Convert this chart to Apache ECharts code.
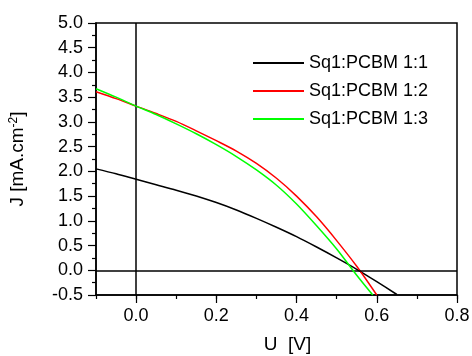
<!DOCTYPE html>
<html>
<head>
<meta charset="utf-8">
<script src="https://cdn.jsdelivr.net/npm/echarts@6/dist/echarts.min.js"></script>
<style>
  html, body { margin: 0; padding: 0; background: #fff; }
  #chart { width: 472px; height: 356px; }
</style>
</head>
<body>
<div id="chart"></div>
<script>
// series names
const seriesNames = ["Sq1:PCBM 1:1", "Sq1:PCBM 1:2", "Sq1:PCBM 1:3"];

// voltage (V) and current density (mA/cm2)
const uBlack = [-0.1, -0.05, 0, 0.05, 0.1, 0.15, 0.2, 0.25, 0.3, 0.35, 0.4, 0.45, 0.5, 0.55, 0.6, 0.65];
const jBlack = [2.05, 1.95, 1.84, 1.73, 1.62, 1.50, 1.37, 1.22, 1.05, 0.87, 0.68, 0.47, 0.25, 0.02, -0.23, -0.49];

const uRed = [-0.1, -0.05, 0, 0.05, 0.1, 0.15, 0.2, 0.25, 0.3, 0.35, 0.4, 0.45, 0.5, 0.55, 0.6];
const jRed = [3.61, 3.47, 3.32, 3.17, 3.01, 2.82, 2.62, 2.41, 2.16, 1.86, 1.50, 1.08, 0.60, 0.08, -0.50];

const uGreen = [-0.1, -0.05, 0, 0.05, 0.1, 0.15, 0.2, 0.25, 0.3, 0.35, 0.4, 0.45, 0.5, 0.55, 0.59];
const jGreen = [3.67, 3.50, 3.32, 3.15, 2.96, 2.76, 2.54, 2.30, 2.03, 1.72, 1.34, 0.90, 0.43, -0.10, -0.50];

// major tick labels on the U axis
const uTicks = [0, 0.2, 0.4, 0.6, 0.8];

const colors = ["#000000", "#ff0000", "#00ff00"];
const font = "Liberation Sans, Arial, sans-serif";

function zip(xs, ys) {
    return xs.map((x, i) => [x, ys[i]]);
}

const chart = echarts.init(document.getElementById("chart"));
chart.setOption({
    animation: false,
    backgroundColor: "#fff",
    textStyle: { fontFamily: font },
    grid: {
        left: 96,
        right: 15,
        top: 23,
        bottom: 61,
        outerBoundsMode: "none",
        show: true,
        borderColor: "#000",
        borderWidth: 1.5
    },
    legend: {
        orient: "vertical",
        left: 248,
        top: 49,
        itemWidth: 51,
        itemHeight: 2,
        itemGap: 10,
        icon: "rect",
        data: seriesNames,
        textStyle: { fontSize: 18, color: "#000", fontFamily: font, lineHeight: 18 }
    },
    xAxis: [
        {
            // minor ticks every 0.1
            type: "value",
            min: -0.1,
            max: 0.8,
            interval: 0.1,
            axisLine: { show: true, onZero: false, lineStyle: { color: "#000", width: 1.5 } },
            axisTick: { show: true, length: 4, lineStyle: { color: "#000", width: 1.2 } },
            axisLabel: { show: false },
            splitLine: { show: false }
        },
        {
            type: "value",
            min: -0.1,
            max: 0.8,
            position: "bottom",
            axisLine: { show: false, onZero: false },
            axisTick: { show: true, length: 8, customValues: uTicks, lineStyle: { color: "#000", width: 1.2 } },
            axisLabel: {
                show: true,
                customValues: uTicks,
                margin: 12,
                fontSize: 18,
                color: "#000",
                fontFamily: font,
                formatter: v => v.toFixed(1)
            },
            splitLine: { show: false },
            name: "U  [V]",
            nameLocation: "middle",
            nameGap: 40,
            nameTextStyle: { fontSize: 19, color: "#000", fontFamily: font, padding: [0, 0, 0, 22] }
        }
    ],
    yAxis: {
        type: "value",
        min: -0.5,
        max: 5,
        interval: 0.5,
        axisLine: { show: true, onZero: false, lineStyle: { color: "#000", width: 1.5 } },
        axisTick: { show: true, length: 8, lineStyle: { color: "#000", width: 1.2 } },
        minorTick: { show: true, splitNumber: 2, length: 4, lineStyle: { color: "#000", width: 1.2 } },
        axisLabel: {
            margin: 13,
            fontSize: 18,
            color: "#000",
            fontFamily: font,
            formatter: v => v.toFixed(1)
        },
        splitLine: { show: false },
        name: "J [mA.cm{sup|-2}]",
        nameLocation: "middle",
        nameRotate: 90,
        nameGap: 68,
        nameTextStyle: {
            fontSize: 19,
            color: "#000",
            fontFamily: font,
            rich: {
                sup: { fontSize: 12, verticalAlign: "top", padding: [0, 0, 8, 0], fontFamily: font }
            }
        }
    },
    series: [
        {
            name: seriesNames[0],
            type: "line",
            xAxisIndex: 0,
            smooth: 0.3,
            symbol: "none",
            lineStyle: { color: colors[0], width: 1.5 },
            itemStyle: { color: colors[0] },
            data: zip(uBlack, jBlack),
            markLine: {
                silent: true,
                symbol: ["none", "none"],
                label: { show: false },
                lineStyle: { color: "#000", width: 1.5, type: "solid" },
                data: [{ xAxis: 0 }, { yAxis: 0 }]
            },
            z: 3
        },
        {
            name: seriesNames[1],
            type: "line",
            xAxisIndex: 0,
            smooth: 0.3,
            symbol: "none",
            lineStyle: { color: colors[1], width: 1.5 },
            itemStyle: { color: colors[1] },
            data: zip(uRed, jRed),
            z: 4
        },
        {
            name: seriesNames[2],
            type: "line",
            xAxisIndex: 0,
            smooth: 0.3,
            symbol: "none",
            lineStyle: { color: colors[2], width: 1.5 },
            itemStyle: { color: colors[2] },
            data: zip(uGreen, jGreen),
            z: 5
        }
    ]
});
</script>
</body>
</html>
